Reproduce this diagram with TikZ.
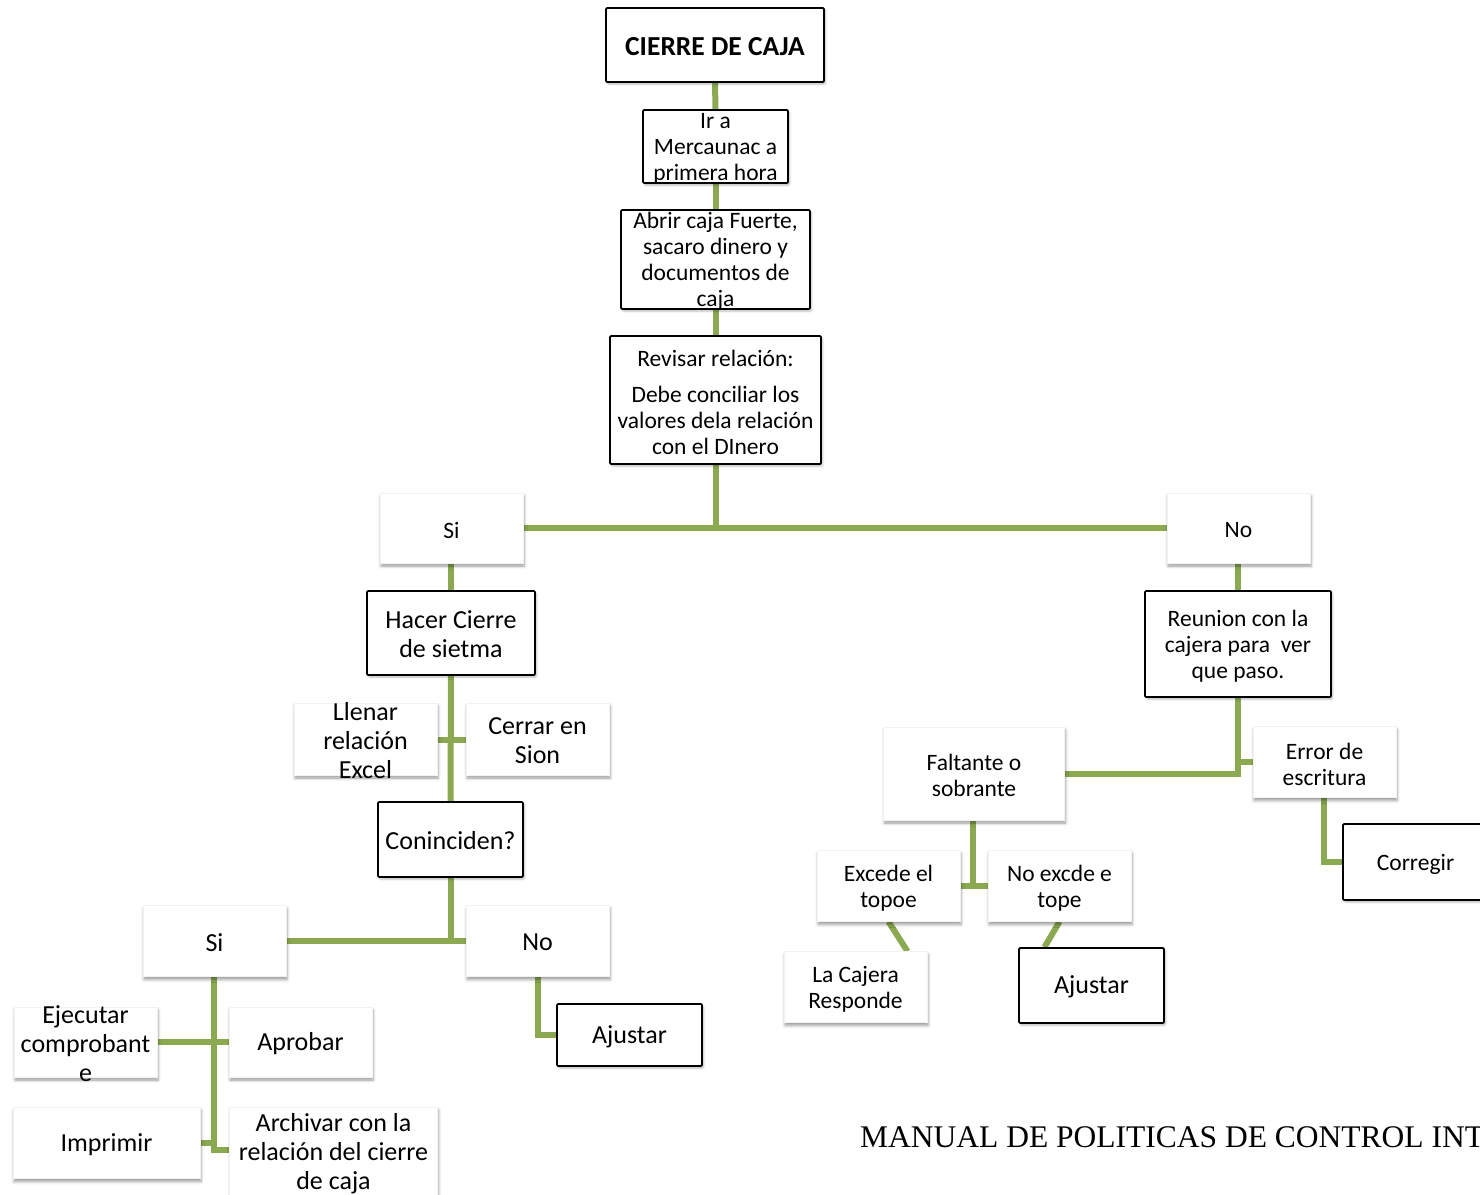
\documentclass[tikz,border=0pt]{standalone}
\usepackage{fontspec}
\setmainfont{Carlito}
\newfontfamily\footfont{Liberation Serif}
\usetikzlibrary{shadows.blur}
\definecolor{branch}{RGB}{138,169,80}
\pgfdeclarelayer{background}
\pgfsetlayers{background,main}

\tikzset{
  boxbase/.style={inner sep=0pt, fill=white},
  blk/.style={boxbase, draw=black, line width=1.8pt, rounded corners=1.2pt,
    blur shadow={shadow xshift=1.5pt, shadow yshift=-2pt, shadow blur radius=2pt, shadow opacity=30}},
  wht/.style={boxbase, draw=black!5, line width=0.4pt,
    blur shadow={shadow xshift=1pt, shadow yshift=-3pt, shadow blur radius=3pt, shadow opacity=40}},
  sz/.style 2 args={minimum width=#1pt, minimum height=#2pt},
  small/.style={font=\fontsize{23.5}{26}\selectfont, align=center, inner sep=0pt, yshift=-2pt},
  large/.style={font=\fontsize{26}{29}\selectfont, align=center, inner sep=0pt, yshift=-1.5pt},
  heading/.style={font=\fontsize{27.5}{32}\selectfont\bfseries, align=center, inner sep=0pt, yshift=-2pt},
  link/.style={draw=branch, line width=6pt},
}

\begin{document}
\begin{tikzpicture}[x=1pt, y=-1pt]
\useasboundingbox (0,0) rectangle (1480,1194);
\clip (0,0) rectangle (1480,1194);

% main column
\node[blk, sz={218}{74}, label={[heading]center:{CIERRE DE CAJA}}] (title) at (715,45) {};
\node[blk, sz={145}{73}, label={[small]center:{Ir a\\Mercaunac a\\primera hora}}] (ir) at (715.5,146.5) {};
\node[blk, sz={189}{99}, label={[small]center:{Abrir caja Fuerte,\\sacaro dinero y\\documentos de\\caja}}] (abrir) at (715.5,259.5) {};
\node[blk, sz={211}{128}, label={[small]center:{Revisar relación:\\[10pt]Debe conciliar los\\valores dela relación\\con el DInero}}] (rev) at (715.5,400) {};
\node[wht, sz={143}{70}, label={[small]center:{Si}}] (si1) at (451.5,528) {};
\node[wht, sz={143}{70}, label={[small]center:{No}}] (no1) at (1238.5,528) {};

% left branch
\node[blk, sz={168}{84}, label={[large]center:{Hacer Cierre\\de sietma}}] (hacer) at (451,633) {};
\node[wht, sz={143}{72}, label={[large]center:{Llenar\\relación\\Excel}}] (llenar) at (365.5,739) {};
\node[wht, sz={143}{72}, label={[large]center:{Cerrar en\\Sion}}] (cerrar) at (537.5,739) {};
\node[blk, sz={145}{75}, label={[large]center:{Coninciden?}}] (coin) at (450.5,839.5) {};
\node[wht, sz={143}{71}, label={[large]center:{Si}}] (si2) at (214.5,941) {};
\node[wht, sz={143}{71}, label={[large]center:{No}}] (no2) at (537.5,941) {};
\node[blk, sz={145}{62}, label={[large]center:{Ajustar}}] (aj1) at (629.5,1035) {};
\node[wht, sz={143}{70}, label={[large]center:{Ejecutar\\comprobant\\e}}] (ejec) at (85.5,1042) {};
\node[wht, sz={143}{70}, label={[large]center:{Aprobar}}] (aprob) at (300.5,1042) {};
\node[wht, sz={187}{71}, label={[large]center:{Imprimir}}] (impr) at (106.5,1143) {};
\node[wht, sz={208}{90}, label={[large]center:{Archivar con la\\relación del cierre\\de caja}}] (arch) at (333.5,1152) {};

% right branch
\node[blk, sz={186}{106}, label={[small]center:{Reunion con la\\cajera para\ \ ver\\que paso.}}] (reun) at (1238,644) {};
\node[wht, sz={181}{93}, label={[small]center:{Faltante o\\sobrante}}] (falt) at (974,773.5) {};
\node[wht, sz={143}{71}, label={[small]center:{Error de\\escritura}}] (err) at (1324.5,762) {};
\node[blk, sz={145}{76}, label={[small]center:{Corregir}}] (corr) at (1415.5,862) {};
\node[wht, sz={143}{71}, label={[small]center:{Excede el\\topoe}}] (exc) at (888.5,886) {};
\node[wht, sz={143}{71}, label={[small]center:{No excde e\\tope}}] (noexc) at (1059.5,886) {};
\node[wht, sz={143}{71}, label={[small]center:{La Cajera\\Responde}}] (caj) at (855.5,987) {};
\node[blk, sz={145}{75}, label={[large]center:{Ajustar}}] (aj2) at (1091.5,985.5) {};

% footer line of the page
\node[anchor=base west, inner sep=0pt, font=\footfont\fontsize{31.5}{36}\selectfont] (foot) at (860,1147) {MANUAL DE POLITICAS DE CONTROL INT};

% connectors, kept behind the boxes
\begin{pgfonlayer}{background}
  \coordinate (hub1) at (715.5,528);
  \coordinate (hub2) at (451,941);
  \coordinate (tee1) at (451,740);
  \coordinate (tee2) at (214,1042);
  \coordinate (tee3) at (1238,762);
  \coordinate (tee4) at (1238,773.5);
  \coordinate (tee5) at (973,886);
  \coordinate (turnA) at (538,1035);
  \coordinate (turnB) at (1324,862);
  \coordinate (turnC) at (214,1150);
  \coordinate (tee6) at (214,1143);

  \path[link] (title.south) -- (ir.north);
  \path[link] (ir.south) -- (abrir.north);
  \path[link] (abrir.south) -- (rev.north);
  \path[link] (rev.south) -- (hub1);
  \path[link] (si1.east) -- (no1.west);

  \path[link] (si1.south -| hacer.north) -- (hacer.north);
  \path[link] (hacer.south) -- (coin.north);
  \path[link] (llenar.east |- tee1) -- (cerrar.west |- tee1);
  \path[link] (coin.south -| hub2) -- (hub2);
  \path[link] (si2.east) -- (no2.west);
  \path[link] (no2.south -| turnA) -- (turnA) -- (aj1.west);
  \path[link] (si2.south -| tee2) -- (turnC) -- (arch.west |- turnC);
  \path[link] (ejec.east |- tee2) -- (aprob.west |- tee2);
  \path[link] (impr.east |- tee6) -- (tee6);

  \path[link] (no1.south -| reun.north) -- (reun.north);
  \path[link] (reun.south) -- (tee4) -- (falt.east |- tee4);
  \path[link] (tee3) -- (err.west |- tee3);
  \path[link] (err.south -| turnB) -- (turnB) -- (corr.west |- turnB);
  \path[link] (falt.south -| tee5) -- (tee5);
  \path[link] (exc.east |- tee5) -- (noexc.west |- tee5);
  \path[link] (exc.south) -- ([xshift=52pt]caj.north);
  \path[link] (noexc.south) -- ([xshift=-47pt]aj2.north);
\end{pgfonlayer}
\end{tikzpicture}
\end{document}
